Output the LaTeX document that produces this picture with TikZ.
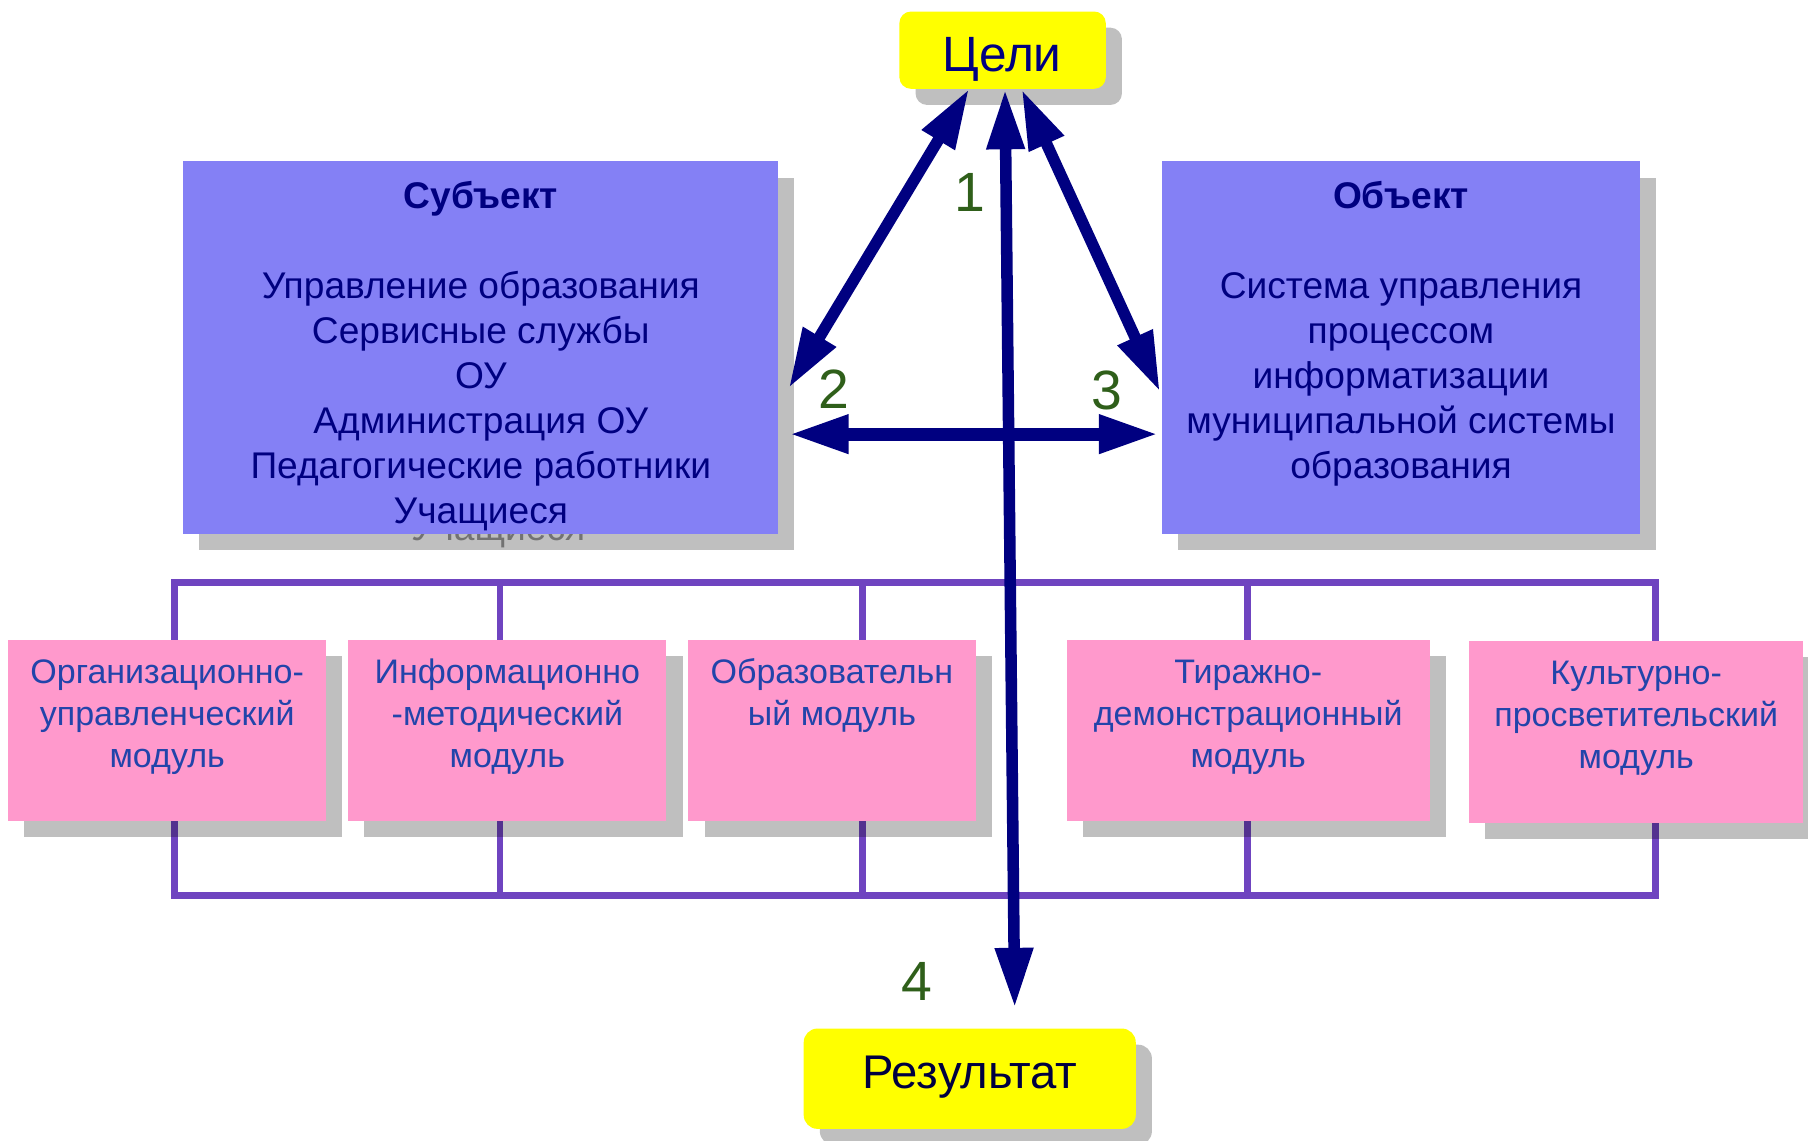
\documentclass[tikz,border=0pt]{standalone}
\usepackage{fontspec}
\setmainfont{Liberation Sans}
\usetikzlibrary{arrows.meta,shadows,calc}
\definecolor{navy}{HTML}{000080}
\definecolor{darknavy}{HTML}{000040}
\definecolor{boxblue}{HTML}{8480F5}
\definecolor{boxpink}{HTML}{FF99CC}
\definecolor{pinktext}{HTML}{2244AA}
\definecolor{numgreen}{HTML}{2F5F1A}
\definecolor{framepurple}{HTML}{6F44C0}
\definecolor{goalyellow}{HTML}{FFFF00}
\begin{document}
\begin{tikzpicture}[x=1pt,y=-1pt,
  shadowed/.style={drop shadow={shadow xshift=14pt,shadow yshift=-14pt,fill=black,opacity=0.25}},
  bigbox/.style={shadowed,fill=boxblue,draw=none,inner sep=0pt},
  modbox/.style={shadowed,fill=boxpink,draw=none,inner sep=0pt,minimum height=157pt},
  goalbox/.style={shadowed,fill=goalyellow,draw=none,inner sep=0pt},
  bigtext/.style={anchor=north,inner sep=0pt,align=center,text=navy,font=\fontsize{32.2}{39}\selectfont},
  modtext/.style={anchor=north,inner sep=0pt,align=center,text=pinktext,font=\fontsize{29.5}{36.5}\selectfont},
  numlabel/.style={anchor=base,inner sep=0pt,text=numgreen,font=\fontsize{48}{56}\selectfont},
  link/.style={draw=navy,line width=10pt,{Triangle[length=52pt,width=31pt]}-{Triangle[length=52pt,width=31pt]}},
  frameline/.style={draw=framepurple,line width=6pt}
]
\useasboundingbox (0,0) rectangle (1568,988.7);

% frame connecting the modules
\coordinate (ftl) at (151,505);
\coordinate (fbr) at (1436,777);
\draw[frameline] (ftl) rectangle (fbr);
\coordinate (v1t) at (433.6,505); \coordinate (v1b) at (433.6,777);
\coordinate (v2t) at (748,505);   \coordinate (v2b) at (748,777);
\coordinate (v3t) at (1082,505);  \coordinate (v3b) at (1082,777);
\draw[frameline] (v1t) -- (v1b);
\draw[frameline] (v2t) -- (v2b);
\draw[frameline] (v3t) -- (v3b);

% modules
\node[modbox,minimum width=276pt] (m1) at (145,633.5) {};
\node[modbox,minimum width=276pt] (m2) at (440,633.5) {};
\node[modbox,minimum width=249pt] (m3) at (721.5,633.5) {};
\node[modbox,minimum width=315pt] (m4) at (1082.5,633.5) {};
\node[modbox,minimum width=290pt,minimum height=158pt] (m5) at (1419,635) {};
\node[modtext] (m1t) at (145,567) {Организационно-\strut\\управленческий\\модуль};
\node[modtext] (m2t) at (440,567) {Информационно\strut\\-методический\\модуль};
\node[modtext] (m3t) at (721.5,567) {Образовательн\strut\\ый модуль};
\node[modtext] (m4t) at (1082.5,567) {Тиражно-\strut\\демонстрационный\\модуль};
\node[modtext] (m5t) at (1419,568) {Культурно-\strut\\просветительский\\модуль};

% subject and object
\node[anchor=base,inner sep=0pt,text=black!40,font=\fontsize{32.2}{39}\selectfont] (ghost) at (432,469) {Учащиеся};
\node[bigbox,minimum width=516pt,minimum height=323pt] (subj) at (417,301.5) {};
\node[bigbox,minimum width=414pt,minimum height=323pt] (obj) at (1215,301.5) {};
\node[bigtext] (subjt) at (417,153.2) {\textbf{Субъект}\strut\\ \\Управление образования\\Сервисные службы\\ОУ\\Администрация ОУ\\Педагогические работники\\Учащиеся};
\node[bigtext] (objt) at (1215,153.2) {\textbf{Объект}\strut\\ \\Система управления\\процессом\\информатизации\\муниципальной системы\\образования};

% goal and result
\node[goalbox,rounded corners=10pt,minimum width=179pt,minimum height=67pt] (goal) at (869.5,43.5) {};
\node[anchor=base,inner sep=0pt,text=navy,font=\fontsize{43}{50}\selectfont] (goalt) at (869,62) {Цели};
\node[goalbox,rounded corners=12pt,minimum width=288pt,minimum height=87pt] (result) at (841,935.5) {};
\node[anchor=base,inner sep=0pt,text=darknavy,font=\fontsize{41}{48}\selectfont] (resultt) at (841,944) {Результат};

% arrows
\coordinate (a1s) at (840.5,77);  \coordinate (a1e) at (684,336.6);
\coordinate (a3s) at (886,77.5);  \coordinate (a3e) at (1006,339.7);
\coordinate (a2s) at (684,376.5); \coordinate (a2e) at (1005,376.5);
\coordinate (a4s) at (871.6,77.5); \coordinate (a4e) at (880,874);
\draw[link] (a1s) -- (a1e);
\draw[link] (a3s) -- (a3e);
\draw[link,line width=11.5pt] (a2s) -- (a2e);
\draw[link] (a4s) -- (a4e);

% labels
\node[numlabel] (n1) at (841,183) {1};
\node[numlabel] (n2) at (723,354) {2};
\node[numlabel] (n3) at (960,355) {3};
\node[numlabel] (n4) at (795,868) {4};
\end{tikzpicture}
\end{document}
